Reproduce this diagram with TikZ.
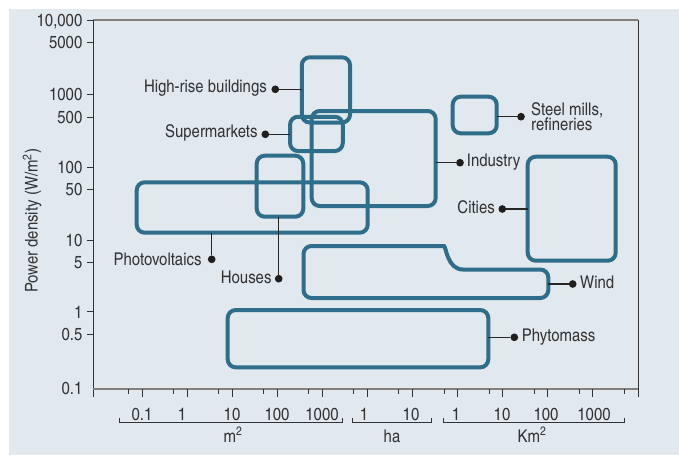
\documentclass[tikz,border=0pt]{standalone}
\usepackage{fontspec}
\setmainfont{texgyreheroscn}[Extension=.otf,UprightFont=*-regular,BoldFont=*-bold,FakeStretch=1.04]
\usepackage{xcolor}
\usetikzlibrary{positioning}

\definecolor{panelbg}{RGB}{225,233,239}
\definecolor{zoneblue}{RGB}{46,110,138}
\definecolor{inkgray}{RGB}{51,51,51}
\definecolor{rulegray}{RGB}{128,128,128}

\tikzset{
  zone/.style={draw=zoneblue,line width=4pt,rounded corners=8pt,inner sep=0pt,outer sep=0pt},
  pin/.style={circle,fill=black!88,minimum size=7.7pt,inner sep=0pt},
  lead/.style={black!85,line width=1.1pt},
  lbl/.style={text=inkgray,inner sep=0pt},
  axisline/.style={black!80,line width=1pt},
}

\begin{document}
\begin{tikzpicture}[x=1pt,y=-1pt,font=\fontsize{17.5}{18}\selectfont]
\useasboundingbox (0,0) rectangle (679,455);
\fill[panelbg] (9,9) rectangle (679,455);

% Frame: grey top and bottom rules, dark sides.
\draw[rulegray,line width=1.5pt] (93,20) -- (638,20);
\draw[axisline] (638,20) -- (638,397);
\draw[axisline] (93,20) -- (93,397);
\draw[rulegray,line width=2pt] (93,389) -- (638,389);

% Power density axis (log scale).
\foreach \y/\lab [count=\i] in {20/{10,000},42/5000,94/1000,117/500,167/100,189/50,240/10,262.5/5,311.7/1,334.3/0.5}{
  \draw[axisline] (86.5,\y) -- (93,\y);
  \node[lbl,anchor=base east] (ylab-\i) at (82.5,\y+6.3) {\lab};
}
\node[lbl,anchor=base east] (ylab-0) at (82.5,394.3) {0.1};
\node[lbl,rotate=90] (ytitle) at (32,221) {Power density (W/m\textsuperscript{2})};

% Area axis: one decade every 45.09, half-decade ticks in front.
\foreach \k in {0,...,11}{
  \pgfmathsetmacro\xx{142+45.09*\k}
  \draw[axisline] (\xx-13.6,389) -- (\xx-13.6,394);
  \draw[axisline] (\xx,389) -- (\xx,397);
}
\foreach \x/\lab [count=\i] in {142/0.1,182/1,232/10,277/100,322/1000,364/1,411/10,456/1,502/10,546/100,594/1000}{
  \node[lbl,anchor=base] (xlab-\i) at (\x,420.5) {\lab};
}
\foreach \a/\b/\unit/\c [count=\i] in {119/342.3/m\textsuperscript{2}/233,352.7/431/ha/392,443.3/624.3/Km\textsuperscript{2}/532}{
  \draw[axisline] (\a,417.5) -- (\a,422.5) -- (\b,422.5) -- (\b,417.5);
  \node[lbl,anchor=base] (unit-\i) at (\c,442) {\unit};
}

% Ranges of the consumers and producers.
\node[zone,minimum width=48.3pt,minimum height=65.2pt] (highrise) at (325.9,89.9) {};
\node[zone,minimum width=52.7pt,minimum height=34.3pt] (market) at (316.4,133.9) {};
\node[zone,minimum width=124pt,minimum height=95pt] (industry) at (373.7,158.5) {};
\node[zone,minimum width=46.6pt,minimum height=61pt] (houses) at (280,186.2) {};
\node[zone,minimum width=231pt,minimum height=50.4pt] (solar) at (252.2,207.5) {};
\node[zone,minimum width=44pt,minimum height=36.6pt] (steel) at (474.7,115) {};
\node[zone,minimum width=88pt,minimum height=104pt] (cities) at (571.7,208.7) {};
\node[zone,minimum width=260.6pt,minimum height=57.3pt] (biomass) at (358,338.7) {};
\draw[zone] (303.5,272) -- (303.5,246) -- (436,246)
  .. controls (446,246) and (447,269.5) .. (471,269.5)
  -- (548.3,269.5) -- (548.3,298) -- (303.5,298) -- cycle;
\coordinate (wind-east) at (548.3,284);

% Pins and leads.
\node[pin] (highrise-pin) at (275.3,89.3) {};
\node[pin] (market-pin) at (265.3,134.3) {};
\node[pin] (industry-pin) at (460,162.7) {};
\node[pin] (steel-pin) at (521,116.7) {};
\node[pin] (cities-pin) at (502.3,209) {};
\node[pin] (wind-pin) at (572.7,284) {};
\node[pin] (biomass-pin) at (514.3,337.3) {};
\node[pin] (solar-pin) at (211.7,259.3) {};
\node[pin] (houses-pin) at (278.7,278.7) {};
\draw[lead] (highrise-pin) -- (highrise.west |- highrise-pin);
\draw[lead] (market-pin) -- (market.west |- market-pin);
\draw[lead] (industry.east |- industry-pin) -- (industry-pin);
\draw[lead] (steel.east |- steel-pin) -- (steel-pin);
\draw[lead] (cities-pin) -- (cities.west |- cities-pin);
\draw[lead] (wind-east) -- (wind-pin);
\draw[lead] (biomass.east |- biomass-pin) -- (biomass-pin);
\draw[lead] (solar.south -| solar-pin) -- (solar-pin);
\draw[lead] (houses.south -| houses-pin) -- (houses-pin);

% Labels.
\node[lbl,anchor=base east] (highrise-lab) at (267,92.7) {High-rise buildings};
\node[lbl,anchor=base east] (market-lab) at (257.7,137.7) {Supermarkets};
\node[lbl,anchor=base west] (industry-lab) at (466.7,166.2) {Industry};
\node[lbl,anchor=base west] (steel-lab) at (531,115) {Steel mills,};
\node[lbl,anchor=base west] (steel-lab2) at (531,130.7) {refineries};
\node[lbl,anchor=base east] (cities-lab) at (495,213.3) {Cities};
\node[lbl,anchor=base west] (wind-lab) at (580,288.3) {Wind};
\node[lbl,anchor=base west] (biomass-lab) at (521.7,341.7) {Phytomass};
\node[lbl,anchor=base east] (solar-lab) at (201.7,265) {Photovoltaics};
\node[lbl,anchor=base east] (houses-lab) at (271.7,283.3) {Houses};
\end{tikzpicture}
\end{document}
